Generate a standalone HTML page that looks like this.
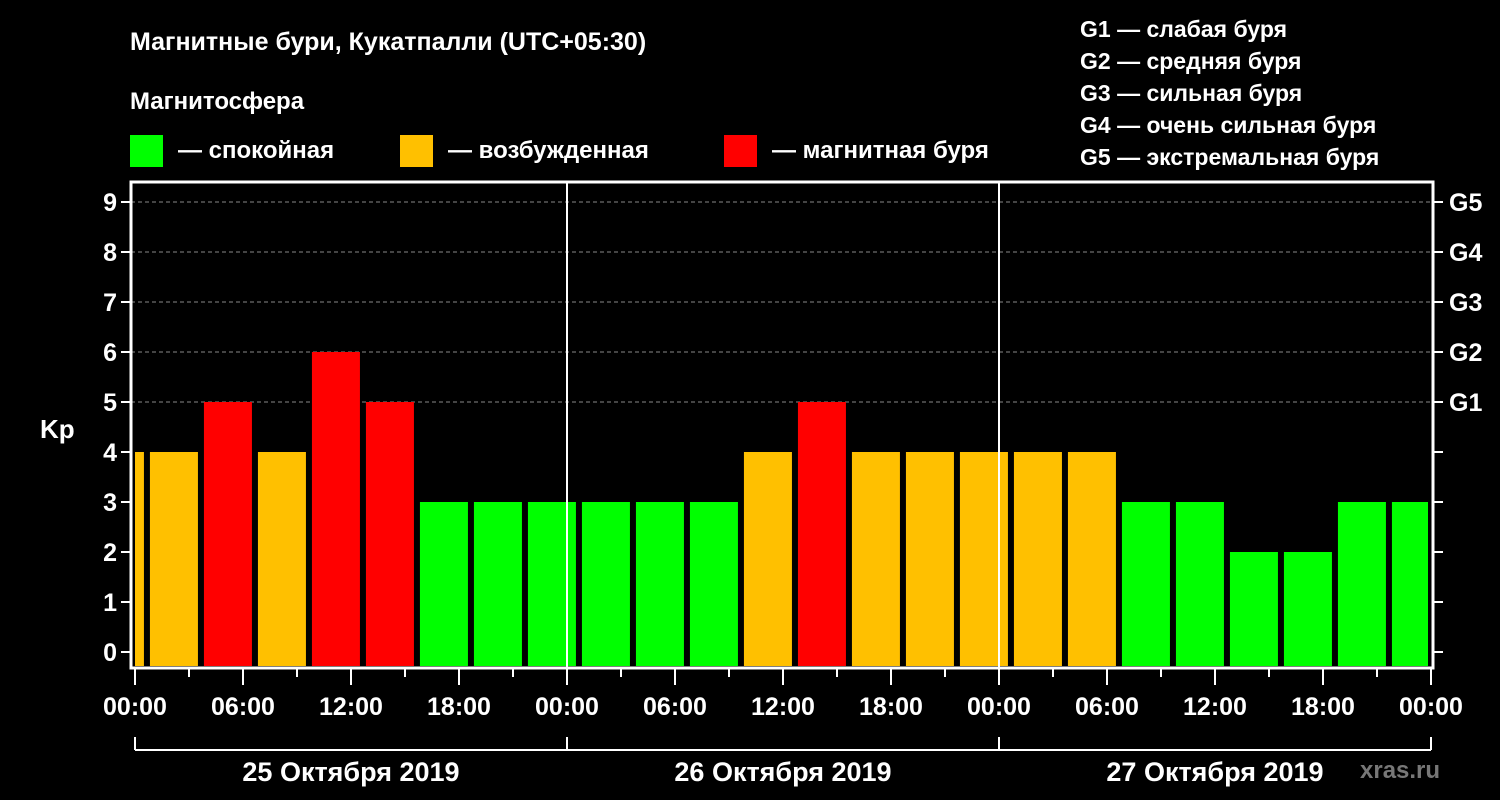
<!DOCTYPE html>
<html><head><meta charset="utf-8"><style>
body{margin:0;background:#000;width:1500px;height:800px;overflow:hidden}
svg{display:block;font-family:"Liberation Sans",sans-serif;font-weight:bold}
</style></head><body>
<svg id="c" width="1500" height="800">
<text x="130" y="50" fill="#fff" font-size="25">Магнитные бури, Кукатпалли (UTC+05:30)</text>
<text x="130" y="109" fill="#fff" font-size="24">Магнитосфера</text>
<g><rect x="130" y="135" width="33" height="32" fill="#00ff00"/><text x="178" y="158" fill="#fff" font-size="24">— спокойная</text></g>
<g><rect x="400" y="135" width="33" height="32" fill="#ffc000"/><text x="448" y="158" fill="#fff" font-size="24">— возбужденная</text></g>
<g><rect x="724" y="135" width="33" height="32" fill="#ff0000"/><text x="772" y="158" fill="#fff" font-size="24">— магнитная буря</text></g>
<g fill="#fff" font-size="23">
<text x="1080" y="37">G1 — слабая буря</text>
<text x="1080" y="69">G2 — средняя буря</text>
<text x="1080" y="101">G3 — сильная буря</text>
<text x="1080" y="133">G4 — очень сильная буря</text>
<text x="1080" y="165">G5 — экстремальная буря</text>
</g>
<text x="40" y="438" fill="#fff" font-size="26">Kp</text>
<text x="1360" y="778" fill="#777" font-size="24">xras.ru</text>
<g id="plot"></g>
</svg>
<script>
const kpValues=[4,4,5,4,6,5,3,3,3,3,3,3,4,5,4,4,4,4,4,3,3,2,2,3,3];
const yTicks=[0,1,2,3,4,5,6,7,8,9];
const gLabels=["G1","G2","G3","G4","G5"];
const xTickLabels=["00:00","06:00","12:00","18:00","00:00","06:00","12:00","18:00","00:00","06:00","12:00","18:00","00:00"];
const dayLabels=["25 Октября 2019","26 Октября 2019","27 Октября 2019"];
const NS="http://www.w3.org/2000/svg";
const g=document.getElementById('plot');
const X0=135,HOUR=18,Y0=652,UNIT=50,TOP=182,BOT=668,LEFT=131,RIGHT=1433,XEND=1430;
const xs=h=>X0+h*HOUR, ys=v=>Y0-v*UNIT;
function el(t,a){const e=document.createElementNS(NS,t);for(const k in a)e.setAttribute(k,a[k]);g.appendChild(e);return e;}
// grid
yTicks.filter(v=>v>=5).forEach(v=>{const l=el('line',{x1:LEFT,x2:RIGHT,y1:ys(v),y2:ys(v),stroke:'#888','stroke-dasharray':'4,3','stroke-width':1});

});
// bars: offset local time UTC+5:30 -> interval start at -0.5h+3i (boundary offset)
kpValues.forEach((v,i)=>{
 let x1=xs(-2.17+3*i), x2=x1+48;
 x1=Math.max(x1,X0); x2=Math.min(x2,XEND-2);
 if(x2<=x1)return;
 const col=v>=5?'#ff0000':(v>=4?'#ffc000':'#00ff00');
 const r=el('rect',{x:x1,y:ys(v),width:x2-x1,height:666-ys(v),fill:col});
 
 
});
// day separators
[1,2].forEach(d=>{const l=el('line',{x1:xs(24*d),x2:xs(24*d),y1:TOP,y2:BOT,stroke:'#fff','stroke-width':2});

});
// frame
const f=el('rect',{x:LEFT,y:TOP,width:RIGHT-LEFT,height:BOT-TOP,fill:'none',stroke:'#fff','stroke-width':3});


// y ticks
yTicks.forEach(v=>{
 el('line',{x1:LEFT-10,x2:LEFT,y1:ys(v),y2:ys(v),stroke:'#fff','stroke-width':2});
 el('line',{x1:RIGHT,x2:RIGHT+10,y1:ys(v),y2:ys(v),stroke:'#fff','stroke-width':2});
 const t=el('text',{x:LEFT-14,y:ys(v)+9,fill:'#fff','font-size':25,'text-anchor':'end'});t.textContent=v;
 
 
});
gLabels.forEach((s,i)=>{const t=el('text',{x:RIGHT+16,y:ys(5+i)+9,fill:'#fff','font-size':25});t.textContent=s;
 
 });
// x ticks
for(let h=0;h<=72;h+=3){const major=h%6===0;el('line',{x1:xs(h),x2:xs(h),y1:BOT,y2:major?BOT+17:BOT+9,stroke:'#fff','stroke-width':2});}
xTickLabels.forEach((s,i)=>{const t=el('text',{x:xs(6*i*3/3*1)+0,y:715,fill:'#fff','font-size':25,'text-anchor':'middle'});
 t.setAttribute('x',xs(i*6));t.textContent=s;
 
 });
// day brackets
el('line',{x1:xs(0),x2:xs(72),y1:750,y2:750,stroke:'#fff','stroke-width':2});
[0,1,2,3].forEach(d=>el('line',{x1:xs(24*d),x2:xs(24*d),y1:737,y2:750,stroke:'#fff','stroke-width':2}));
dayLabels.forEach((s,i)=>{const t=el('text',{x:xs(24*i+12),y:781,fill:'#fff','font-size':27,'text-anchor':'middle'});t.textContent=s;
 
 });
</script>
</body></html>
